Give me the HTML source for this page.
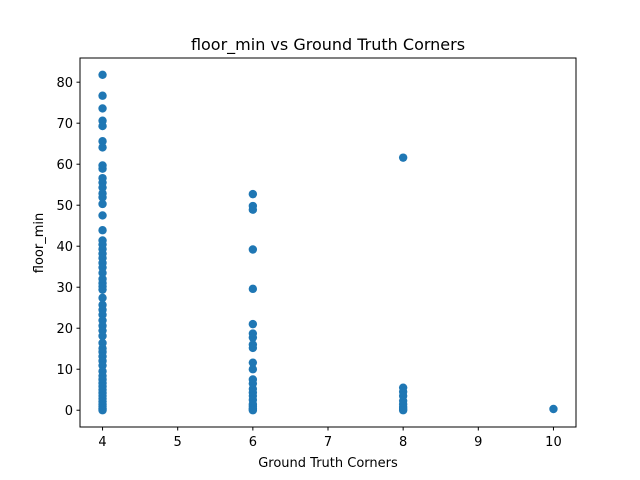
<!DOCTYPE html>
<html><head><meta charset="utf-8"><style>
body{margin:0;background:#fff;}
svg{display:block;font-family:"DejaVu Sans","Liberation Sans",sans-serif;}
</style></head><body>
<svg id="chart" width="640" height="480">
<rect width="640" height="480" fill="#fff"/>
<text x="328" y="50" text-anchor="middle" font-size="16">floor_min vs Ground Truth Corners</text>
<text x="328" y="467" text-anchor="middle" font-size="13">Ground Truth Corners</text>
<text transform="translate(43,243) rotate(-90)" text-anchor="middle" font-size="13">floor_min</text>
<g id="marks"></g>
<g id="axes"></g>
<rect x="80" y="58" width="496" height="369" fill="none" stroke="#000" stroke-width="1"/>
</svg>
<script>
const xTicks=[4,5,6,7,8,9,10];
const yTicks=[0,10,20,30,40,50,60,70,80];
const xs4=[81.8,76.7,73.6,70.6,69.3,65.6,64.1,59.7,58.9,56.6,55.5,54.3,52.9,51.9,50.3,47.5,43.9,41.4,40.4,39.3,38.2,37.1,35.9,34.8,33.5,32,31,30.2,29.4,27.4,25.7,24.5,23.3,21.9,20.6,19.4,18.1,16.4,15.1,14.2,13.1,12,10.9,9.5,8.4,7.5,6.6,5.8,5,4.2,3.5,2.8,2.1,1.5,1,0.5,0.2,0];
const xs6=[52.7,49.8,48.9,39.2,29.6,21,18.7,17.7,16,15.2,11.6,10,7.5,6.5,5.2,4.3,3.5,2.5,1.5,1,0.5,0.2,0];
const xs8=[61.6,5.5,4.5,3.5,2.3,1.5,0.8,0.3,0];
const xs10=[0.3];
const groups=[[4,xs4],[6,xs6],[8,xs8],[10,xs10]];
const X0=80,X1=576,Y0=427,Y1=58,xmin=3.7,xmax=10.3,ymin=-4.09,ymax=85.9;
function sx(v){return X0+(v-xmin)/(xmax-xmin)*(X1-X0);}
function sy(v){return Y0-(v-ymin)/(ymax-ymin)*(Y0-Y1);}
const NS="http://www.w3.org/2000/svg";
const marks=document.getElementById('marks'),axes=document.getElementById('axes');
groups.forEach(g=>{g[1].forEach(v=>{
 const c=document.createElementNS(NS,'circle');
 c.setAttribute('cx',sx(g[0]));c.setAttribute('cy',sy(v));c.setAttribute('r',4.2);c.setAttribute('fill','#1f77b4');
 
 
 marks.appendChild(c);});});
xTicks.forEach(t=>{
 const l=document.createElementNS(NS,'line');
 l.setAttribute('x1',sx(t));l.setAttribute('x2',sx(t));l.setAttribute('y1',427);l.setAttribute('y2',430.5);l.setAttribute('stroke','#000');
 
 
 axes.appendChild(l);
 const tx=document.createElementNS(NS,'text');
 tx.setAttribute('x',sx(t));tx.setAttribute('y',446);tx.setAttribute('text-anchor','middle');tx.setAttribute('font-size','13');tx.textContent=t;
 
 
 axes.appendChild(tx);});
yTicks.forEach(t=>{
 const l=document.createElementNS(NS,'line');
 l.setAttribute('x1',76.5);l.setAttribute('x2',80);l.setAttribute('y1',sy(t));l.setAttribute('y2',sy(t));l.setAttribute('stroke','#000');
 
 
 axes.appendChild(l);
 const tx=document.createElementNS(NS,'text');
 tx.setAttribute('x',73);tx.setAttribute('y',sy(t)+5);tx.setAttribute('text-anchor','end');tx.setAttribute('font-size','13');tx.textContent=t;
 
 
 axes.appendChild(tx);});
</script>
</body></html>
